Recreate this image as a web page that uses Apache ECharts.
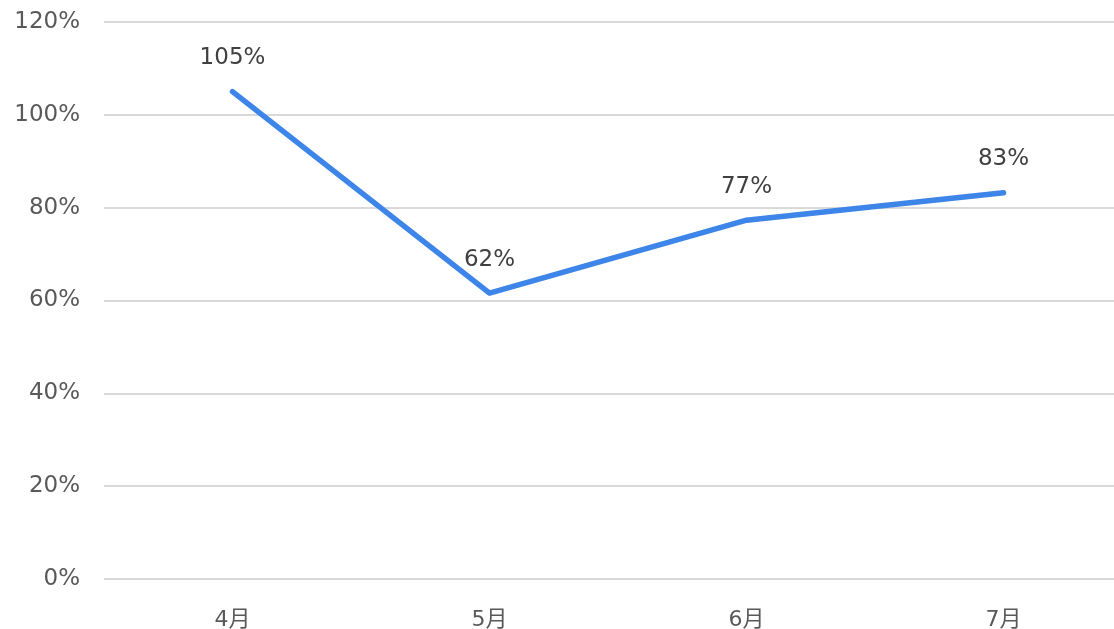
<!DOCTYPE html>
<html><head><meta charset="utf-8">
<script src="https://cdn.jsdelivr.net/npm/echarts@6/dist/echarts.min.js"></script>
<style>html,body{margin:0;padding:0;background:#fff;overflow:hidden}#c{width:1114px;height:629px}</style>
</head><body><div id="c"></div>
<script>
const categories = ['4月','5月','6月','7月'];
const rates = [105, 61.6, 77.3, 83.2];
const yMin = 0, yMax = 120, yStep = 20;
const font = '"DejaVu Sans", Verdana, "Noto Sans CJK JP", sans-serif';
const chart = echarts.init(document.getElementById('c'));
chart.setOption({
  animation: false,
  grid: {left: 104, right: -18, top: 22, bottom: 50, containLabel: false, outerBoundsMode: 'none'},
  xAxis: {
    type: 'category', data: categories, boundaryGap: true,
    axisLine: {show: false}, axisTick: {show: false},
    axisLabel: {color: '#595959', fontSize: 22, fontFamily: font, margin: 30}
  },
  yAxis: {
    type: 'value', min: yMin, max: yMax, interval: yStep,
    axisLine: {show: false}, axisTick: {show: false},
    axisLabel: {color: '#595959', fontSize: 23, fontFamily: font, margin: 24, formatter: v => v + '%'},
    splitLine: {lineStyle: {color: '#d9d9d9', width: 2}}
  },
  series: [{
    type: 'line', data: rates,
    symbol: 'circle', symbolSize: 2,
    itemStyle: {color: '#3d85e8'},
    lineStyle: {color: '#3d85e8', width: 5.5, cap: 'round', join: 'round'},
    label: {show: true, position: 'top', distance: 21, color: '#404040', fontSize: 23, fontFamily: font,
      formatter: p => Math.round(p.value) + '%'}
  }]
});
</script></body></html>
